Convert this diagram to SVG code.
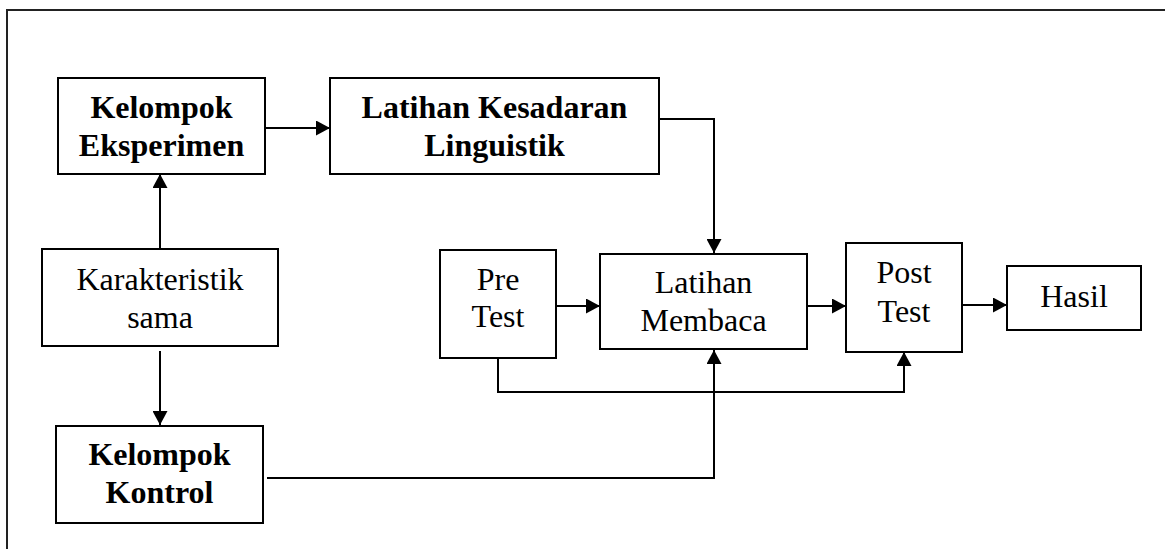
<svg xmlns="http://www.w3.org/2000/svg" width="1165" height="549" viewBox="0 0 1165 549">
<style>
  .box { fill: #fff; stroke: #000; stroke-width: 2; }
  .t { font-family: "Liberation Serif", "Times New Roman", serif; font-size: 32px; fill: #000; text-anchor: middle; }
  .b { font-weight: bold; }
  .c { fill: none; stroke: #000; stroke-width: 2; }
  .frame { fill: none; stroke: #222; stroke-width: 2; }
</style>
<defs>
  <marker id="ah" markerUnits="userSpaceOnUse" markerWidth="15" markerHeight="15" refX="14" refY="7.5" orient="auto">
    <path d="M0,0 L14,7.5 L0,15 z" fill="#000"/>
  </marker>
</defs>
<rect width="1165" height="549" fill="#fff"/>
<path class="frame" d="M7,549 V10 H1165"/>

<g id="connectors">
  <line class="c" x1="160" y1="260" x2="160" y2="174" marker-end="url(#ah)"/>
  <line class="c" x1="265" y1="128" x2="330" y2="128" marker-end="url(#ah)"/>
  <path class="c" d="M659,119 H714 V253" marker-end="url(#ah)"/>
  <line class="c" x1="160" y1="351" x2="160" y2="425" marker-end="url(#ah)"/>
  <path class="c" d="M267,478 H714 V350" marker-end="url(#ah)"/>
  <line class="c" x1="556" y1="306" x2="600" y2="306" marker-end="url(#ah)"/>
  <path class="c" d="M498,358 V392 H904 V352" marker-end="url(#ah)"/>
  <line class="c" x1="807" y1="306" x2="846" y2="306" marker-end="url(#ah)"/>
  <line class="c" x1="962" y1="305" x2="1007" y2="305" marker-end="url(#ah)"/>
</g>

<g id="kelompok-eksperimen">
  <rect class="box" x="58" y="78" width="207" height="96"/>
  <text class="t b" x="161.5" y="118">Kelompok</text>
  <text class="t b" x="161.5" y="156">Eksperimen</text>
</g>
<g id="latihan-kesadaran">
  <rect class="box" x="330" y="78" width="329" height="96"/>
  <text class="t b" x="494.5" y="118">Latihan Kesadaran</text>
  <text class="t b" x="494.5" y="156">Linguistik</text>
</g>
<g id="karakteristik">
  <rect class="box" x="42" y="249" width="236" height="97"/>
  <text class="t" x="160" y="290">Karakteristik</text>
  <text class="t" x="160" y="328">sama</text>
</g>
<g id="kelompok-kontrol">
  <rect class="box" x="56" y="426" width="207" height="97"/>
  <text class="t b" x="159.5" y="465">Kelompok</text>
  <text class="t b" x="159.5" y="503">Kontrol</text>
</g>
<g id="pre-test">
  <rect class="box" x="440" y="250" width="116" height="108"/>
  <text class="t" x="498" y="290">Pre</text>
  <text class="t" x="498" y="327">Test</text>
</g>
<g id="latihan-membaca">
  <rect class="box" x="600" y="254" width="207" height="95"/>
  <text class="t" x="703.5" y="293">Latihan</text>
  <text class="t" x="703.5" y="331">Membaca</text>
</g>
<g id="post-test">
  <rect class="box" x="846" y="243" width="116" height="109"/>
  <text class="t" x="904" y="283">Post</text>
  <text class="t" x="904" y="322">Test</text>
</g>
<g id="hasil">
  <rect class="box" x="1007" y="266" width="134" height="64"/>
  <text class="t" x="1074" y="307">Hasil</text>
</g>
</svg>
